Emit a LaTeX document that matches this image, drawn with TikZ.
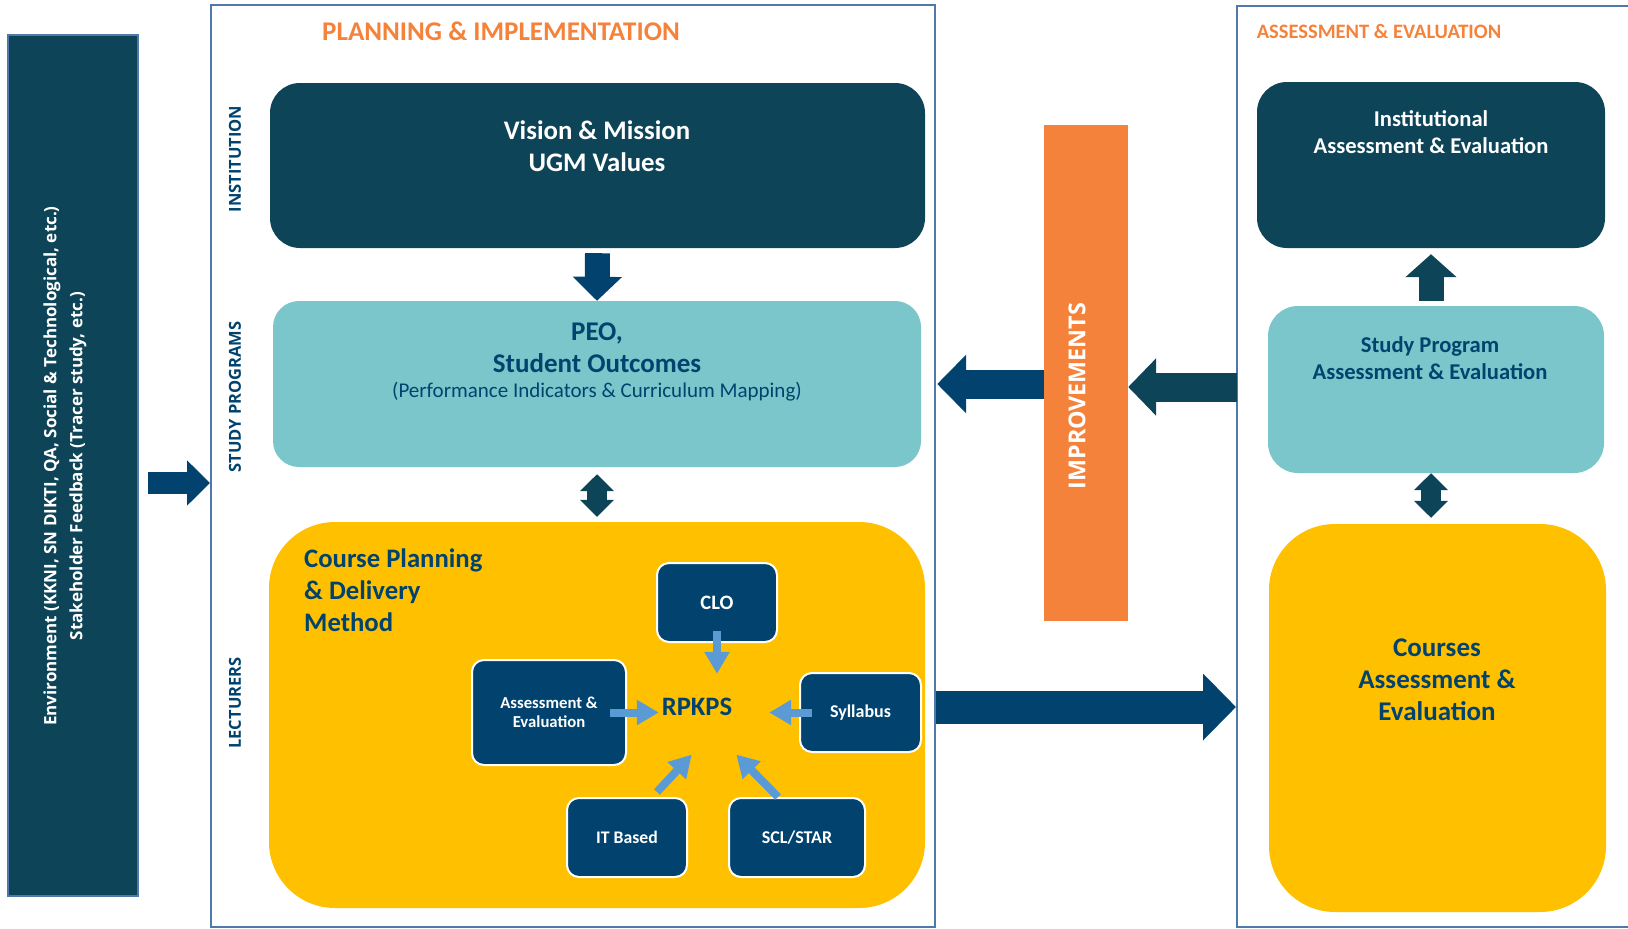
\documentclass[tikz,border=0pt]{standalone}
\usepackage{fontspec}
\setmainfont{Carlito}
\newfontfamily\opensans{Open Sans}
\usetikzlibrary{arrows.meta,shapes.geometric}

\definecolor{navy}{HTML}{01436E}
\definecolor{deepteal}{HTML}{0D4458}
\definecolor{aqua}{HTML}{7AC6CB}
\definecolor{gold}{HTML}{FFC000}
\definecolor{tangerine}{HTML}{F5823A}
\definecolor{skyblue}{HTML}{5B9BD5}
\definecolor{framecol}{HTML}{5078A8}

\tikzset{
  panel/.style={draw=framecol, line width=2pt, inner sep=0pt},
  block/.style={inner sep=0pt, rounded corners=#1},
  tile/.style={fill=navy, draw=white, line width=2pt, rounded corners=12pt, text=white, align=center, inner sep=0pt},
  sidelabel/.style={rotate=90, text=navy, font=\opensans\bfseries\fontsize{16.5}{20}\selectfont},
  fat/.style n args={3}{line width=#1, -{Triangle[length=#2, width=#3]}},
  fatboth/.style n args={3}{line width=#1, {Triangle[length=#2, width=#3]}-{Triangle[length=#2, width=#3]}},
  skyarrow/.style={draw=skyblue, line width=8pt, -{Triangle[length=22pt, width=24pt]}}
}

\begin{document}
\begin{tikzpicture}[x=1pt, y=-1pt]
    \useasboundingbox (0,0) rectangle (1628,929);

    % Frames
    \node[panel, minimum width=724pt, minimum height=922pt] (plan) at (573,466) {};
    \node[panel, minimum width=408pt, minimum height=921pt] (eval) at (1441,466.5) {};
    \node[text=tangerine, font=\bfseries\fontsize{27}{30}\selectfont] (plantitle) at (501,31) {PLANNING \& IMPLEMENTATION};
    \node[text=tangerine, font=\bfseries\fontsize{20.5}{24}\selectfont] (evaltitle) at (1379,31) {ASSESSMENT \& EVALUATION};

    % Environment
    \node[fill=deepteal, draw=framecol, line width=2pt, minimum width=130pt, minimum height=861pt] (env) at (73,465.5) {};
    \node[rotate=90, align=center, text=white, font=\opensans\bfseries\fontsize{17}{26}\selectfont] (envtext) at (65,466)
        {Environment (KKNI, SN DIKTI, QA, Social \& Technological, etc.)\\Stakeholder Feedback (Tracer study, etc.)};

    % Side labels
    \node[sidelabel] (lblinst) at (235,159) {INSTITUTION};
    \node[sidelabel] (lblstudy) at (235,397) {STUDY PROGRAMS};
    \node[sidelabel] (lbllect) at (235,703) {LECTURERS};

    % Planning blocks
    \node[block=30pt, fill=deepteal, minimum width=655pt, minimum height=165pt] (vision) at (597.5,165.5) {};
    \node[align=center, text=white, font=\bfseries\fontsize{26.8}{32}\selectfont] (visiontext) at (597,146) {Vision \& Mission\\UGM Values};

    \node[block=26pt, fill=aqua, minimum width=648pt, minimum height=166pt] (peo) at (597,384) {};
    \node[align=center, text=navy, font=\bfseries\fontsize{27}{32}\selectfont] (peotext) at (597,348) {PEO,\\Student Outcomes};
    \node[text=navy, font=\fontsize{21}{24}\selectfont] (peonote) at (597,392) {(Performance Indicators \& Curriculum Mapping)};

    \node[block=66pt, fill=gold, minimum width=656pt, minimum height=386pt] (course) at (597,715) {};
    \node[anchor=west, align=left, inner sep=0pt, text=navy, font=\bfseries\fontsize{26.7}{32}\selectfont] (coursetext) at (304,590) {Course Planning\\\& Delivery\\Method};

    % RPKPS and its inputs
    \node[text=navy, font=\bfseries\fontsize{26.6}{30}\selectfont] (rpkps) at (697,707) {RPKPS};
    \node[ellipse, minimum width=110pt, minimum height=84pt, inner sep=0pt] (hub) at (714,716) {};
    \node[tile, minimum width=120pt, minimum height=79pt, font=\bfseries\fontsize{20.5}{24}\selectfont] (clo) at (717,602.5) {CLO};
    \node[tile, minimum width=154pt, minimum height=105pt, font=\bfseries\fontsize{16.7}{19}\selectfont] (assess) at (549,712.5) {Assessment \&\\Evaluation};
    \node[tile, minimum width=121pt, minimum height=79pt, font=\bfseries\fontsize{18}{21}\selectfont] (syll) at (860.5,712.5) {Syllabus};
    \node[tile, minimum width=120pt, minimum height=79pt, font=\bfseries\fontsize{17.7}{21}\selectfont] (itb) at (627,837.5) {IT Based};
    \node[tile, minimum width=136pt, minimum height=79pt, font=\bfseries\fontsize{18}{21}\selectfont] (scl) at (797,837.5) {SCL/STAR};

    \draw[skyarrow] ([yshift=12pt]clo.south) -- (clo.south |- hub.north);
    \draw[skyarrow] ([xshift=-17pt]assess.east) -- (assess.east -| hub.west);
    \draw[skyarrow] ([xshift=13pt]syll.west) -- (syll.west -| hub.east);
    \draw[skyarrow] ([xshift=30pt,yshift=5pt]itb.north) -- (hub.240);
    \draw[skyarrow] ([xshift=-19pt]scl.north) -- (hub.300);

    % Improvements
    \node[fill=tangerine, minimum width=84pt, minimum height=496pt, inner sep=0pt] (impr) at (1086,373) {};
    \node[rotate=90, text=white, font=\opensans\bfseries\fontsize{23.3}{27}\selectfont] (imprtext) at (1077,396) {IMPROVEMENTS};

    % Assessment blocks
    \node[block=30pt, fill=deepteal, minimum width=348pt, minimum height=166pt] (inst) at (1431,165) {};
    \node[align=center, text=white, font=\bfseries\fontsize{22.6}{27}\selectfont] (insttext) at (1431,132.5) {Institutional\\Assessment \& Evaluation};
    \node[block=30pt, fill=aqua, minimum width=336pt, minimum height=167pt] (sp) at (1436,389.5) {};
    \node[align=center, text=navy, font=\bfseries\fontsize{22.6}{27}\selectfont] (sptext) at (1430,358) {Study Program\\Assessment \& Evaluation};
    \node[block=66pt, fill=gold, minimum width=337pt, minimum height=388pt] (courses) at (1437.5,718) {};
    \node[align=center, text=navy, font=\bfseries\fontsize{27}{32}\selectfont] (coursestext) at (1437,680) {Courses\\Assessment \&\\Evaluation};

    % Fat arrows
    \coordinate (envout) at (148,483);
    \draw[fat={22pt}{23pt}{44pt}, navy] (envout) -- (envout -| plan.west);
    \draw[fat={25pt}{24pt}{48pt}, navy] ([yshift=-5pt]vision.south) -- (peo.north);
    \draw[fatboth={20pt}{17pt}{33pt}, deepteal] ([yshift=-7pt]peo.south) -- ([yshift=5pt]course.north);
    \draw[fat={29pt}{29pt}{57pt}, navy, shorten >=16pt] (impr.west |- peo.east) -- (peo.east);
    \coordinate (fb) at (1237,387);
    \draw[fat={29pt}{28pt}{56pt}, deepteal] (fb) -- (fb -| impr.east);
    \draw[fat={33pt}{33pt}{65pt}, navy] (plan.east |- rpkps) -- (eval.west |- rpkps);
    \draw[fat={25pt}{23pt}{50pt}, deepteal, shorten <=5pt, shorten >=6pt] (sp.north -| inst.south) -- (inst.south);
    \draw[fatboth={20pt}{17pt}{33pt}, deepteal, shorten >=6pt] (sp.south -| inst.south) -- (inst.south |- courses.north);
\end{tikzpicture}
\end{document}
